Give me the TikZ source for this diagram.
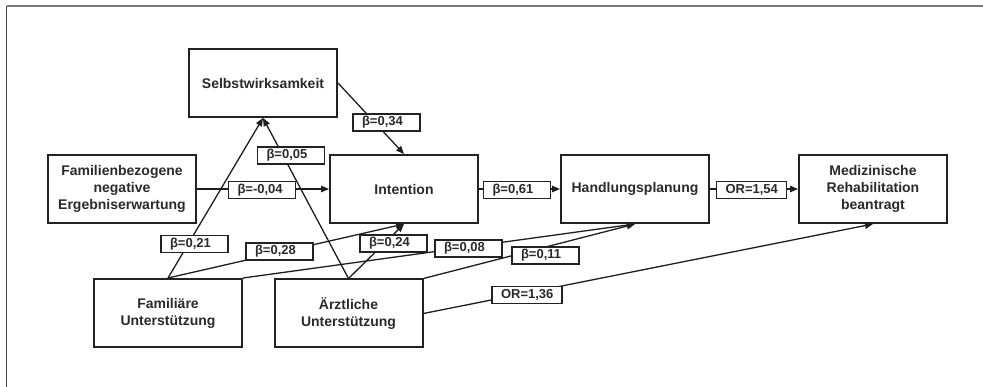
\documentclass[tikz,border=0pt]{standalone}
\usepackage{fontspec}
\setmainfont{Liberation Sans}
\usetikzlibrary{arrows.meta}
\definecolor{boxc}{HTML}{222222}
\definecolor{txtc}{HTML}{2A2A2A}
\definecolor{linec}{HTML}{1E1E1E}
\definecolor{framec}{HTML}{7A7A7A}
\begin{document}
\begin{tikzpicture}[x=1pt,y=-1pt,
  box/.style={draw=boxc, line width=2pt, minimum width=148pt, minimum height=68pt, inner sep=0pt, align=center, font=\fontsize{14}{17}\selectfont\bfseries, text=txtc},
  lab/.style={draw=boxc, fill=white, line width=1.8pt, minimum height=17pt, text width=49pt, inner xsep=9pt, inner ysep=0pt, align=left, font=\fontsize{13}{15}\selectfont\bfseries, text=txtc},
  labw/.style={lab, text width=52pt},
  conn/.style={draw=linec, line width=1.3pt, -{Triangle[length=8pt,width=6.5pt]}}]
\useasboundingbox (0,0) rectangle (983,387);
\fill[white] (0,0) rectangle (983,387);
% frame
\coordinate (fl) at (6.5,387);
\coordinate (ftl) at (6.5,6.5);
\coordinate (ftr) at (983,6.5);
\draw[framec, line width=2pt] (ftl) -- (ftr);
\draw[black!75, line width=0.9pt] (ftl) -- (fl);
% boxes
\node[box] (selbst) at (263,83) {Selbstwirksamkeit};
\node[box] (famneg) at (122,189) {Familienbezogene\\negative\\Ergebniserwartung};
\node[box] (intent) at (404,189) {Intention};
\node[box] (handl) at (635,189) {Handlungsplanung};
\node[box] (med) at (873,189) {Medizinische\\Rehabilitation\\beantragt};
\node[box] (famil) at (168,313) {Familiäre\\Unterstützung};
\node[box] (arzt) at (348.5,313.5) {Ärztliche\\Unterstützung};
% connectors
\draw[conn] (selbst.east) -- (intent.north);
\draw[conn] (famneg.east) -- (intent.west);
\draw[conn] (famil.north) -- (selbst.south);
\draw[conn] (arzt.north) -- (selbst.south);
\draw[conn] (famil.north) -- (intent.south);
\draw[conn] (arzt.north) -- (intent.south);
\draw[conn] (famil.north east) -- (handl.south);
\draw[conn] (arzt.north east) -- (handl.south);
\draw[conn] (arzt.east) -- (med.south);
\draw[conn] (intent.east) -- (handl.west);
\draw[conn] (handl.east) -- (med.west);
% labels
\node[lab] (l34) at (386.5,122.5) {β=0,34};
\node[lab] (l05) at (291,155.5) {β=0,05};
\node[lab] (l04) at (262,190) {β=-0,04};
\node[lab] (l21) at (194.5,244) {β=0,21};
\node[lab] (l28) at (279.5,251.5) {β=0,28};
\node[lab] (l24) at (393.5,243.5) {β=0,24};
\node[lab] (l08) at (468.5,248.5) {β=0,08};
\node[lab] (l11) at (545.5,255.5) {β=0,11};
\node[lab] (l61) at (517,190) {β=0,61};
\node[labw] (l54) at (751.5,190) {OR=1,54};
\node[labw] (l36) at (527,295) {OR=1,36};
\end{tikzpicture}
\end{document}
